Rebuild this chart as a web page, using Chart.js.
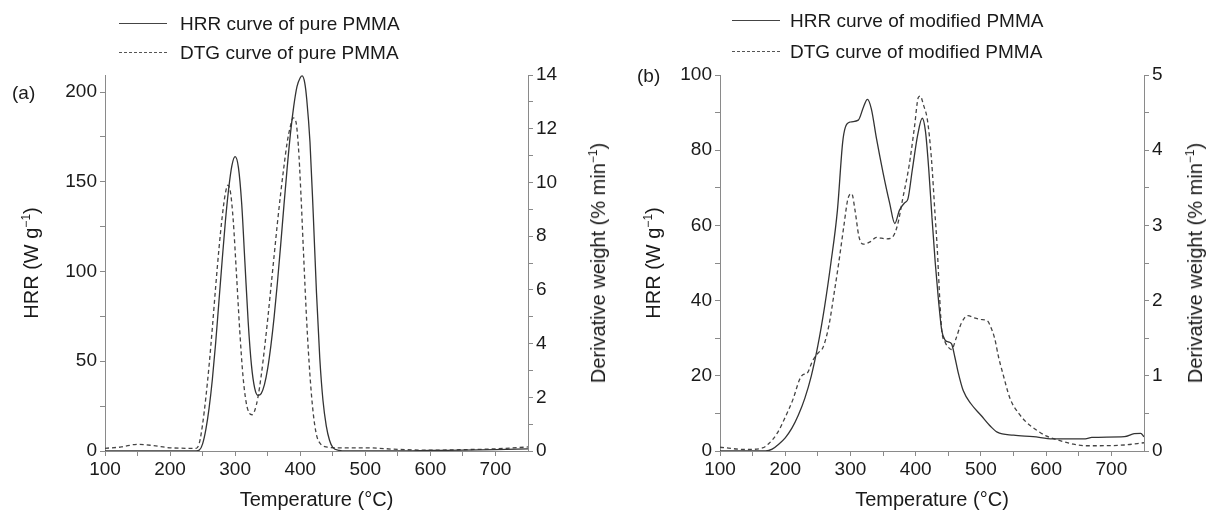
<!DOCTYPE html>
<html>
<head>
<meta charset="utf-8">
<script src="https://cdn.jsdelivr.net/npm/chart.js@4/dist/chart.umd.min.js"></script>
<style>
  html, body { margin: 0; padding: 0; background: #fff; }
  #wrap { position: relative; width: 1213px; height: 520px; overflow: hidden;
          font-family: "Liberation Sans", Arial, sans-serif; color: #1a1a1a; }
  canvas { position: absolute; top: 0; }
  .txt { position: absolute; white-space: nowrap; line-height: 1; }
  .leg { font-size: 19px; }
  .sample { position: absolute; width: 48px; height: 0; }
  .solid { border-top: 1.3px solid #444; }
  .dash { border-top: 1.3px dashed #555; }
  .ytitle { font-size: 20px; transform: translate(-50%, -50%) rotate(-90deg); }
  sup { font-size: 12px; vertical-align: 0; position: relative; top: -8px; }
</style>
</head>
<body>
<div id="wrap">
  <canvas id="chartA" width="612" height="520" style="left:0"></canvas>
  <canvas id="chartB" width="601" height="520" style="left:612px"></canvas>

  <!-- panel (a) legend and labels -->
  <div class="sample solid" style="left:119px;top:23px"></div>
  <div class="txt leg" style="left:180px;top:14px">HRR curve of pure PMMA</div>
  <div class="sample dash" style="left:119px;top:52px"></div>
  <div class="txt leg" style="left:180px;top:43px">DTG curve of pure PMMA</div>
  <div class="txt" style="left:12px;top:83px;font-size:19px">(a)</div>
  <div class="txt ytitle" style="left:31px;top:263px">HRR (W g<sup>−1</sup>)</div>
  <div class="txt ytitle" style="left:598px;top:263px">Derivative weight (% min<sup>−1</sup>)</div>

  <!-- panel (b) legend and labels -->
  <div class="sample solid" style="left:732px;top:20px"></div>
  <div class="txt leg" style="left:790px;top:11px">HRR curve of modified PMMA</div>
  <div class="sample dash" style="left:732px;top:51px"></div>
  <div class="txt leg" style="left:790px;top:42px">DTG curve of modified PMMA</div>
  <div class="txt" style="left:637px;top:66px;font-size:19px">(b)</div>
  <div class="txt ytitle" style="left:653px;top:263px">HRR (W g<sup>−1</sup>)</div>
  <div class="txt ytitle" style="left:1195px;top:263px">Derivative weight (% min<sup>−1</sup>)</div>
</div>

<script>
// (a) pure PMMA
const hrrPureT = [100, 240, 245, 250, 255, 260, 265, 270, 275, 280, 285, 290, 295, 300, 305, 310, 315, 320, 325, 330, 335, 340, 345, 350, 355, 360, 365, 370, 375, 380, 385, 390, 395, 400, 403, 407, 410, 415, 420, 425, 430, 435, 440, 445, 450, 460, 470, 550, 600, 650, 700, 750];
const hrrPure  = [0, 0, 0.5, 4, 12, 24, 40, 60, 83, 106, 128, 146, 159, 164, 158, 138, 105, 72, 48, 35, 31, 32, 37, 46, 59, 75, 94, 115, 137, 158, 177, 192, 203, 208, 209, 205, 196, 172, 132, 88, 52, 28, 14, 6, 2, 0.3, 0, 0, 0.3, 0.5, 0.8, 1.2];
const dtgPureT = [100, 125, 150, 175, 200, 240, 245, 250, 255, 260, 265, 270, 275, 280, 285, 289, 293, 297, 302, 307, 312, 317, 322, 326, 330, 335, 340, 345, 350, 355, 360, 365, 370, 375, 380, 385, 389, 393, 397, 401, 405, 410, 415, 420, 425, 430, 440, 460, 500, 550, 600, 650, 700, 750];
const dtgPure  = [0.1, 0.15, 0.25, 0.2, 0.12, 0.1, 0.3, 1.0, 2.0, 3.2, 4.6, 6.1, 7.5, 8.7, 9.6, 9.9, 9.6, 8.6, 6.6, 4.5, 2.8, 1.8, 1.4, 1.35, 1.5, 2.0, 2.8, 3.8, 4.9, 6.1, 7.3, 8.5, 9.6, 10.6, 11.5, 12.1, 12.4, 12.3, 11.4, 9.6, 7.4, 4.8, 2.8, 1.4, 0.6, 0.3, 0.15, 0.12, 0.12, 0.06, 0.03, 0.05, 0.08, 0.15];

// (b) modified PMMA
const hrrModT = [100, 170, 180, 190, 200, 210, 220, 230, 240, 250, 260, 270, 280, 288, 292, 300, 312, 320, 326, 332, 340, 350, 360, 368, 375, 383, 388, 395, 403, 410, 415, 420, 425, 430, 435, 440, 445, 450, 455, 460, 465, 473, 485, 500, 515, 525, 550, 580, 610, 660, 670, 720, 735, 745, 750];
const hrrMod  = [0, 0, 0.5, 1.8, 3.5, 6, 9.5, 14, 20, 28, 38, 50, 64, 82, 86, 87.5, 88, 91.5, 93.5, 91, 83, 74, 66, 60.5, 64, 66, 67, 75, 84, 88.5, 85, 75, 62, 50, 40, 32, 29.5, 29, 28.5, 25, 21, 16, 12.5, 9.5, 6.5, 5, 4.2, 3.8, 3.2, 3.2, 3.6, 3.8, 4.6, 4.7, 3.8];
const dtgModT = [100, 140, 165, 175, 188, 200, 212, 222, 228, 233, 242, 250, 258, 267, 275, 282, 290, 296, 302, 307, 313, 320, 330, 340, 355, 364, 372, 380, 390, 398, 404, 407, 412, 418, 424, 430, 433, 437, 440, 445, 450, 455, 462, 470, 480, 490, 500, 510, 515, 521, 527, 533, 545, 558, 570, 585, 600, 620, 642, 660, 680, 720, 750];
const dtgMod  = [0.05, 0.02, 0.04, 0.1, 0.24, 0.45, 0.69, 0.95, 1.02, 1.03, 1.2, 1.3, 1.38, 1.67, 2.1, 2.5, 3.0, 3.35, 3.42, 3.2, 2.85, 2.75, 2.78, 2.84, 2.82, 2.84, 3.0, 3.35, 3.8, 4.3, 4.7, 4.72, 4.6, 4.4, 3.9, 3.1, 2.7, 2.0, 1.6, 1.45, 1.38, 1.35, 1.5, 1.7, 1.8, 1.77, 1.75, 1.73, 1.65, 1.5, 1.25, 1.05, 0.69, 0.5, 0.38, 0.28, 0.2, 0.14, 0.09, 0.07, 0.07, 0.08, 0.11];

const tempTicks = [100, 200, 300, 400, 500, 600, 700];

const FONT = '"Liberation Sans", Arial, sans-serif';
const AXIS = '#8a8a8a';
const INK = '#1a1a1a';

function pts(xs, ys) {
    return xs.map((x, i) => ({ x: x, y: ys[i] }));
}

function makeChart(id, cfg) {
    const ctx = document.getElementById(id).getContext('2d');
    const canvasW = ctx.canvas.width;
    const axisCommon = {
        grid: { drawOnChartArea: false, drawTicks: true, tickLength: 5, color: AXIS, lineWidth: 1 },
        border: { display: true, color: AXIS, width: 1 }
    };
    return new Chart(ctx, {
        type: 'line',
        data: {
            datasets: [
                {
                    label: cfg.hrrLabel,
                    data: pts(cfg.hrrT, cfg.hrr),
                    yAxisID: 'y',
                    borderColor: '#333',
                    borderWidth: 1.3,
                    pointRadius: 0,
                    cubicInterpolationMode: 'monotone',
                    fill: false
                },
                {
                    label: cfg.dtgLabel,
                    data: pts(cfg.dtgT, cfg.dtg),
                    yAxisID: 'y1',
                    borderColor: '#444',
                    borderWidth: 1.3,
                    borderDash: [4, 3],
                    pointRadius: 0,
                    cubicInterpolationMode: 'monotone',
                    fill: false
                }
            ]
        },
        options: {
            responsive: false,
            animation: false,
            devicePixelRatio: 1,
            layout: { padding: { top: 75, left: 0, right: 0, bottom: 0 } },
            plugins: { legend: { display: false }, tooltip: { enabled: false } },
            scales: {
                x: {
                    ...axisCommon,
                    type: 'linear',
                    min: 100,
                    max: 750,
                    afterBuildTicks: s => { s.ticks = [];
                        for (let v = 100; v <= 700; v += 50) s.ticks.push({ value: v }); },
                    ticks: {
                        color: INK, font: { family: FONT, size: 19 }, padding: 2,
                        maxRotation: 0, autoSkip: false,
                        callback: v => tempTicks.includes(v) ? String(v) : ''
                    },
                    title: {
                        display: true, text: 'Temperature (°C)', color: INK,
                        font: { family: FONT, size: 20 }, padding: { top: 6, bottom: 8 }
                    },
                    afterFit: s => { s.height = 69; }
                },
                y: {
                    ...axisCommon,
                    position: 'left',
                    min: 0,
                    max: cfg.leftMax,
                    afterBuildTicks: s => { s.ticks = [];
                        for (let v = 0; v <= cfg.leftMax + 1e-9; v += cfg.leftMinor) s.ticks.push({ value: v }); },
                    ticks: {
                        color: INK, font: { family: FONT, size: 19 }, padding: 3,
                        callback: v => (Math.round(v) % cfg.leftMajor === 0) ? String(v) : ''
                    },
                    afterFit: s => { s.width = cfg.plotLeft; }
                },
                y1: {
                    ...axisCommon,
                    position: 'right',
                    min: 0,
                    max: cfg.rightMax,
                    afterBuildTicks: s => { s.ticks = [];
                        for (let v = 0; v <= cfg.rightMax + 1e-9; v += cfg.rightMinor) s.ticks.push({ value: +v.toFixed(2) }); },
                    ticks: {
                        color: INK, font: { family: FONT, size: 19 }, padding: 3,
                        callback: v => (Math.abs(v / cfg.rightMajor - Math.round(v / cfg.rightMajor)) < 1e-6) ? String(v) : ''
                    },
                    afterFit: s => { s.width = canvasW - cfg.plotRight; }
                }
            }
        }
    });
}

makeChart('chartA', {
    hrrLabel: 'HRR curve of pure PMMA', dtgLabel: 'DTG curve of pure PMMA',
    hrrT: hrrPureT, hrr: hrrPure, dtgT: dtgPureT, dtg: dtgPure,
    leftMax: 209.5, leftMinor: 25, leftMajor: 50,
    rightMax: 14, rightMinor: 1, rightMajor: 2,
    plotLeft: 105, plotRight: 528
});

makeChart('chartB', {
    hrrLabel: 'HRR curve of modified PMMA', dtgLabel: 'DTG curve of modified PMMA',
    hrrT: hrrModT, hrr: hrrMod, dtgT: dtgModT, dtg: dtgMod,
    leftMax: 100, leftMinor: 10, leftMajor: 20,
    rightMax: 5, rightMinor: 0.5, rightMajor: 1,
    plotLeft: 720 - 612, plotRight: 1144 - 612
});
</script>
</body>
</html>
